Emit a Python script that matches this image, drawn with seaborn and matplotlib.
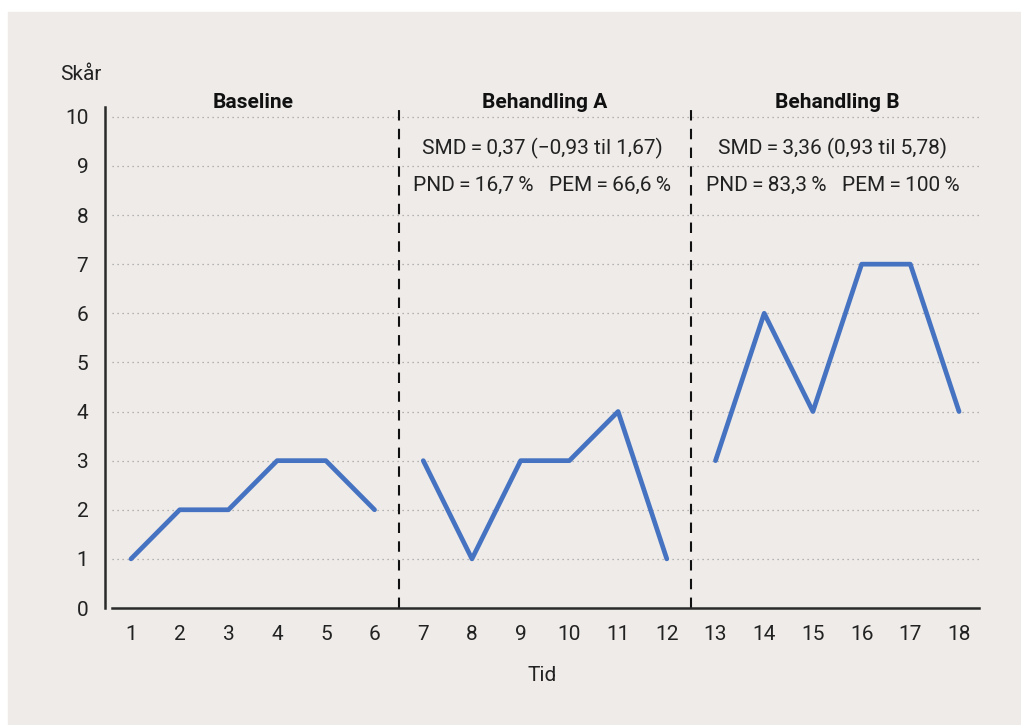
import matplotlib.pyplot as plt
import matplotlib.patches as mpatches
import seaborn as sns
import pandas as pd

# data
tid = list(range(1, 19))
skaar = [1, 2, 2, 3, 3, 2,
         3, 1, 3, 3, 4, 1,
         3, 6, 4, 7, 7, 4]
fase = ["Baseline"] * 6 + ["Behandling A"] * 6 + ["Behandling B"] * 6
fase_navn = ["Baseline", "Behandling A", "Behandling B"]
fase_midt = [3.5, 9.5, 15.5]
fase_skille = [6.5, 12.5]
smd_tekst = ["SMD\u2009=\u20090,37 (\u22120,93 til 1,67)",
             "SMD\u2009=\u20093,36 (0,93 til 5,78)"]
pnd_tekst = ["PND\u2009=\u200916,7\u2009%   PEM\u2009=\u200966,6\u2009%",
             "PND\u2009=\u200983,3\u2009%   PEM\u2009=\u2009100\u2009%"]
tekst_midt = [9.44, 15.4]

sns.set_theme(style="white")
plt.rcParams['font.family'] = ['Roboto', 'DejaVu Sans']

bg = "#eeebe9"
blue = "#4673c1"
ink = "#222222"

df = pd.DataFrame({"Tid": tid, "Skår": skaar, "Fase": fase})

fig = plt.figure(figsize=(10.21, 7.25), dpi=100, facecolor="white")
#grey panel behind the chart
fig.patches.append(mpatches.Rectangle((8/1021, 0), 1, (725-12)/725,
                                      transform=fig.transFigure, color=bg, zorder=-1))
ax = fig.add_axes([105/1021, (725-608)/725, (979-105)/1021, (608-107)/725])
ax.set_facecolor(bg)
ax.patch.set_alpha(0)

x0, x1 = 0.466, 18.41
ax.set_xlim(x0, x1)
ax.set_ylim(0, 10.2)

#dotted grid
ax.hlines(range(1, 11), 0.61, x1, colors="#a0a0a0", linestyles=(0, (1, 3)), lw=0.9, zorder=1)

#phase dividers
ax.vlines(fase_skille, 0, 10.2, colors="#111111", linestyles=(0, (5, 4)), lw=1.5, zorder=2)

sns.lineplot(data=df, x="Tid", y="Skår", hue="Fase", palette=[blue] * 3,
             legend=False, lw=3.4, ax=ax, zorder=3)

for s in ["top", "right"]:
    ax.spines[s].set_visible(False)
ax.spines["left"].set_color("#2a2a2a")
ax.spines["left"].set_linewidth(1.8)
ax.spines["bottom"].set_color("#2a2a2a")
ax.spines["bottom"].set_linewidth(1.8)
ax.spines["bottom"].set_bounds(0.61, x1)

ax.set_xticks(tid)
ax.set_yticks(range(0, 11))
ax.tick_params(axis="both", length=0, labelsize=15, labelcolor=ink)
ax.tick_params(axis="y", pad=12)
ax.tick_params(axis="x", pad=12)
ax.set_xlabel("Tid", fontsize=15, color=ink, labelpad=16)
ax.set_ylabel("")
fig.text(60/1021, 1 - 75/725, "Skår", fontsize=15, color=ink, va="center", ha="left")

for nm, xm in zip(fase_navn, fase_midt):
    ax.text(xm, 10.3, nm, ha="center", va="center", fontsize=15, fontweight="bold", color="#111111")

for t1, t2, xm in zip(smd_tekst, pnd_tekst, tekst_midt):
    ax.text(xm, 9.35, t1, ha="center", va="center", fontsize=15, color=ink)
    ax.text(xm, 8.6, t2, ha="center", va="center", fontsize=15, color=ink)

fig.savefig("out.png", dpi=100, facecolor="white")
